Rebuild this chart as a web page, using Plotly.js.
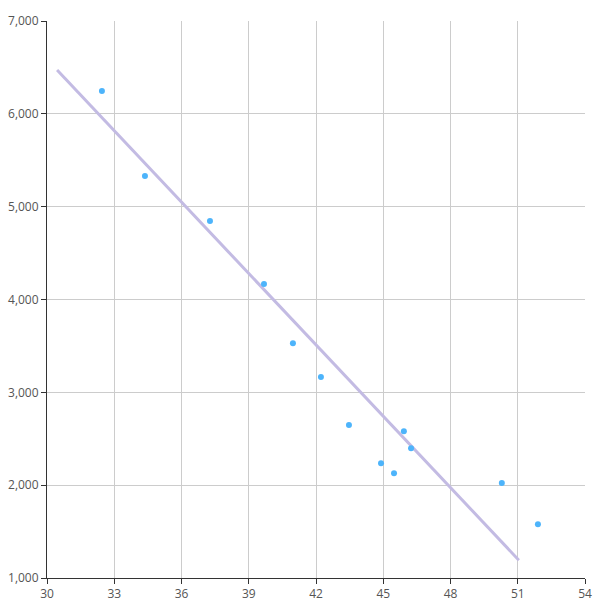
<!DOCTYPE html>
<html><head><meta charset="utf-8">
<script src="https://cdn.plot.ly/plotly-3.0.1.min.js"></script>
<style>html,body{margin:0;padding:0;background:#fff}#c{width:608px;height:610px}</style>
</head><body><div id="c"></div>
<script>
var pointX = [32.45, 34.37, 37.27, 39.68, 40.97, 42.22, 43.47, 44.9, 45.48, 45.92, 46.24, 50.29, 51.9];
var pointY = [6246, 5330, 4845, 4166, 3530, 3164, 2647, 2237, 2129, 2582, 2399, 2022, 1580];
var lineX = [30.45, 51.05];
var lineY = [6472, 1192];
var xTicks = [30, 33, 36, 39, 42, 45, 48, 51, 54];
var yTicks = [1000, 2000, 3000, 4000, 5000, 6000, 7000];

var traces = [
  {x: lineX, y: lineY, mode: 'lines', type: 'scatter', line: {color: '#c3bbe3', width: 3}, hoverinfo: 'skip'},
  {x: pointX, y: pointY, mode: 'markers', type: 'scatter', marker: {color: '#4db4fb', size: 6}}
];
var layout = {
  width: 608, height: 610,
  margin: {l: 47, r: 23, t: 21, b: 32},
  showlegend: false,
  paper_bgcolor: '#fff', plot_bgcolor: '#fff',
  font: {family: 'Open Sans, sans-serif', size: 12, color: '#555'},
  xaxis: {range: [30, 54], tickvals: xTicks, ticktext: xTicks.map(String), showgrid: true, gridcolor: '#cccccc', gridwidth: 1,
          zeroline: false, showline: true, linecolor: '#333', linewidth: 1, ticks: 'outside', ticklen: 5, tickcolor: '#333', mirror: false},
  yaxis: {range: [1000, 7000], tickvals: yTicks, ticktext: yTicks.map(function(v){return v.toLocaleString('en-US');}), showgrid: true, gridcolor: '#cccccc', gridwidth: 1,
          zeroline: false, showline: true, linecolor: '#333', linewidth: 1, ticks: 'outside', ticklen: 5, tickcolor: '#333'}
};
Plotly.newPlot('c', traces, layout, {displayModeBar: false, staticPlot: true});
</script></body></html>
